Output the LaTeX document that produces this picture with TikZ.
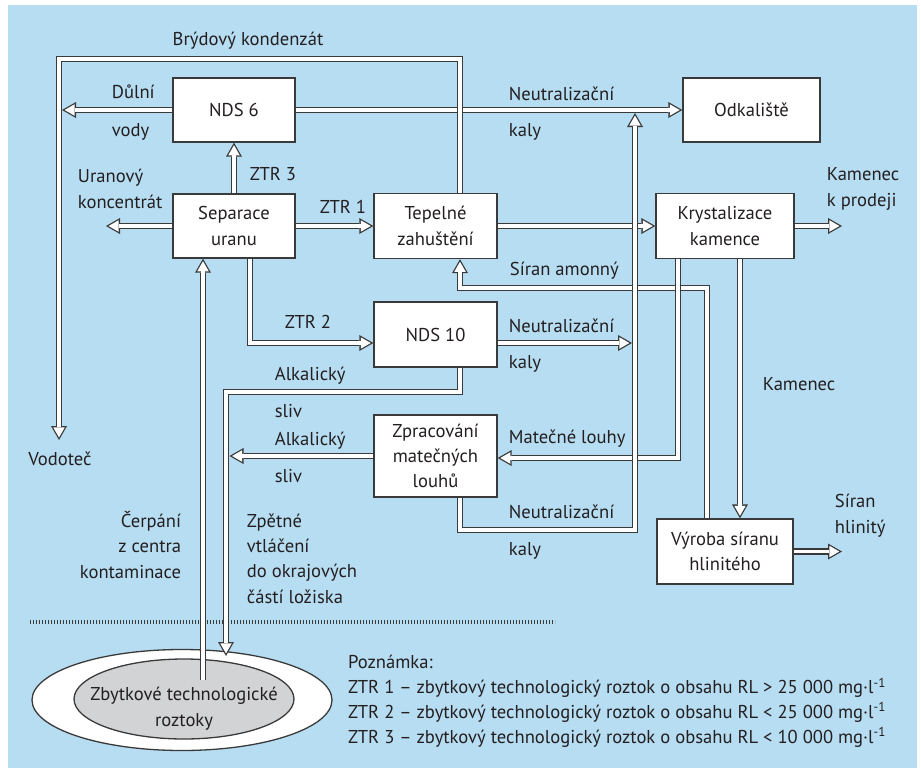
\documentclass[tikz,border=0pt]{standalone}
\usepackage{fontspec}
\setmainfont{PT Sans}
\usetikzlibrary{positioning, calc, shapes.geometric, arrows.meta}
\definecolor{bgblue}{RGB}{183,221,242}
\definecolor{pipegray}{RGB}{58,58,58}
\definecolor{txtgray}{RGB}{35,31,32}
\definecolor{rockgray}{RGB}{209,211,212}

\tikzset{
	block/.style={draw=pipegray, line width=1.3pt, fill=white, text=txtgray, align=center,
	inner sep=0pt, minimum width=122pt, minimum height=64pt},
	lbl/.style={text=txtgray, inner sep=0pt, anchor=base west, align=left},
	pipe/.style={draw=white, line width=3.8pt, preaction={draw=pipegray, line width=6.4pt}},
	flow/.style={draw=white, line width=3.8pt, shorten >=2.6pt,
	-{Triangle[length=10pt, width=11.5pt, line width=0pt]},
	preaction={draw=pipegray, line width=6.4pt, shorten >=0pt,
	-{Triangle[length=14pt, width=16pt, line width=0pt]}}},
}

\begin{document}
\begin{tikzpicture}[x=1pt, y=-1pt, font=\fontsize{18.6}{25.3}\selectfont]
		\useasboundingbox (0,0) rectangle (921,771);
		\fill[bgblue] (8,5) rectangle (917,768);
		
		%Ground line and the deposit
		\draw[pipegray, line width=4.5pt, dash pattern=on 1.1pt off 1.9pt] (30,622) -- (555,622);
		\node (Okraj) at (182,700) [draw=pipegray, line width=1.3pt, fill=white, ellipse, 
		minimum width=300pt, minimum height=101pt]{};
		\node (Zbytkove) at (184,699) [draw=pipegray, line width=1.3pt, fill=rockgray, ellipse, 
		minimum width=220pt, minimum height=80pt]{};
		\node (Zbytkove text) at (184,726) [text=txtgray, inner sep=0pt, align=center, 
		anchor=base]{Zbytkové technologické\\roztoky};
		
		%Process blocks
		\node (NDS 6) at (234,110) [block]{NDS 6};
		\node (Separace) at (234,226) [block]{Separace\\uranu};
		\node (Tepelne) at (435.5,226) [block, minimum width=123pt, minimum height=65pt]{Tepelné\\zahuštění};
		\node (Odkaliste) at (751.5,110) [block, minimum width=137pt]{Odkaliště};
		\node (Krystalizace) at (725,226) [block, minimum width=138pt, minimum height=65pt]{Krystalizace\\kamence};
		\node (NDS 10) at (435.5,334.5) [block, minimum width=123pt, minimum height=65pt]{NDS 10};
		\node (Zpracovani) at (435.5,456) [block, minimum width=123pt, minimum height=82pt]{Zpracování\\matečných\\louhů};
		\node (Vyroba) at (725,551.5) [block, minimum width=136pt, minimum height=65pt]{Výroba síranu\\hlinitého};
		
		%Free ends of the pipes
		\coordinate (Vodotec end) at (59,440);
		\coordinate (Dulni end) at (62,110);
		\coordinate (Uran end) at (106,226);
		\coordinate (Kaly top) at (635,113);
		\coordinate (Kaly joint) at (632,343);
		\coordinate (Alkalicky end) at (229.5,456);
		\coordinate (Vtlaceni end) at (226,656);
		\coordinate (Cerpani start) at (203,680);
		\coordinate (Prodej end) at (842,226);
		\coordinate (Hlinity end) at (842,551.5);
		
		%Links among blocks
		\draw[flow] (NDS 6.east) -- (Odkaliste.west) node at (507,100) [lbl]{Neutralizační} 
		node at (507,136) [lbl]{kaly};
		\draw[flow] ($(Tepelne.north)+(24.5,0)$) |- (59,59) -- (Vodotec end) 
		node at (248,45) [lbl, anchor=base]{Brýdový kondenzát} node at (60,465) [lbl, anchor=base]{Vodoteč};
		\draw[flow] (NDS 6.west) -- (Dulni end) node at (110,98) [lbl]{Důlní} node at (110,136) [lbl]{vody};
		\draw[flow] (Separace.north) -- (NDS 6.south) node at (248,180) [lbl]{ZTR 3};
		\draw[flow] (Separace.west) -- (Uran end) node at (76,208) [lbl]{Uranový\\koncentrát};
		\draw[flow] (Separace.east) -- (Tepelne.west) node at (318,213) [lbl]{ZTR 1};
		\draw[flow] ($(Separace.south)+(16,0)$) |- ($(NDS 10.west)+(0,8.5)$) node at (283,328) [lbl]{ZTR 2};
		\draw[flow] ($(Vyroba.north)+(-18,0)$) |- (460,288) -- ($(Tepelne.south)+(24.5,0)$) 
		node at (508,275) [lbl]{Síran amonný};
		\draw[flow] ($(Krystalizace.south)+(-47,0)$) |- ($(Zpracovani.east)+(0,2)$) 
		node at (507,443) [lbl]{Matečné louhy};
		\draw[flow] (Tepelne.east) -- (Krystalizace.west);
		\draw[flow] ($(NDS 10.east)+(0,8.5)$) -- (Kaly joint) node at (507,332) [lbl]{Neutralizační} 
		node at (507,368) [lbl]{kaly};
		\draw[flow] ($(Zpracovani.south)+(24.5,0)$) |- (635,530) -- (Kaly top) 
		node at (507,518) [lbl]{Neutralizační} node at (507,555) [lbl]{kaly};
		\draw[flow] ($(NDS 10.south)+(24.5,0)$) |- (226,392) -- (Vtlaceni end) 
		node at (273,380) [lbl]{Alkalický} node at (273,417) [lbl]{sliv} 
		node at (245,603) [lbl]{Zpětné\\vtláčení\\do okrajových\\částí ložiska};
		\draw[flow] (Zpracovani.west) -- (Alkalicky end) node at (273,445) [lbl]{Alkalický} 
		node at (273,482) [lbl]{sliv};
		\draw[flow] (Cerpani start) -- ($(Separace.south)+(-31,0)$) 
		node at (183,578) [lbl, anchor=base east, align=right]{Čerpání\\z centra\\kontaminace};
		\draw[flow] ($(Krystalizace.south)+(15,0)$) -- ($(Vyroba.north)+(15,0)$) 
		node at (761,390) [lbl]{Kamenec};
		\draw[flow] (Krystalizace.east) -- (Prodej end) node at (825,206) [lbl]{Kamenec\\k prodeji};
		\draw[flow] (Vyroba.east) -- (Hlinity end) node at (833,533) [lbl]{Síran\\hlinitý};
		
		%Note
		\node (Poznamka) at (348,743) [lbl, font=\fontsize{18.6}{24.8}\selectfont]{Poznámka:\\
		ZTR 1 -- zbytkový technologický roztok o obsahu RL > 25 000 mg·l\textsuperscript{-1}\\
		ZTR 2 -- zbytkový technologický roztok o obsahu RL < 25 000 mg·l\textsuperscript{-1}\\
		ZTR 3 -- zbytkový technologický roztok o obsahu RL < 10 000 mg·l\textsuperscript{-1}};
		
\end{tikzpicture}
\end{document}
